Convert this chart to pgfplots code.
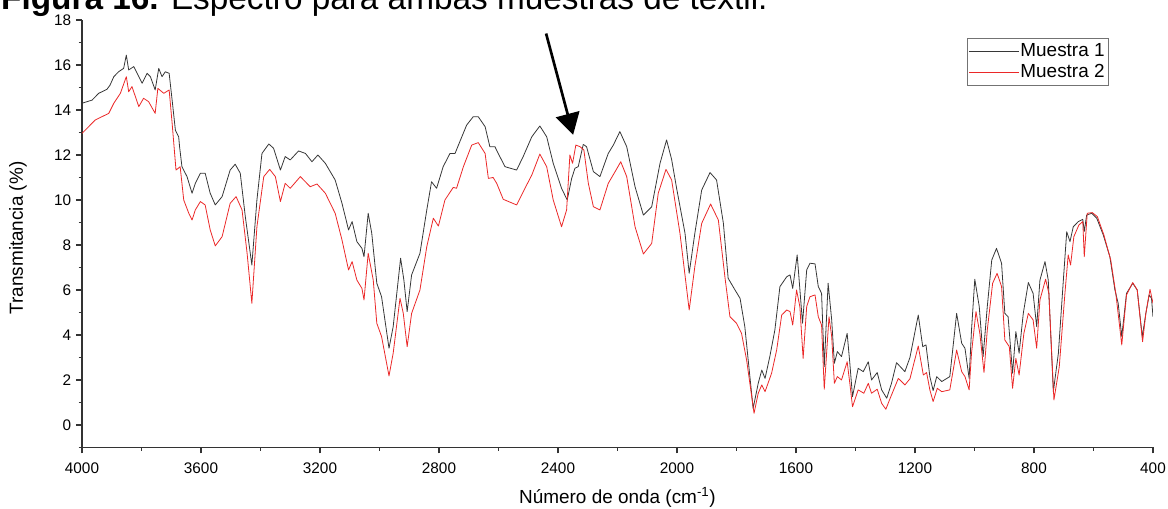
\documentclass[border=0pt]{standalone}
\usepackage{fontspec}
\setmainfont{Liberation Sans}
\usepackage{pgfplots}
\pgfplotsset{compat=1.18}
\usetikzlibrary{arrows.meta}

\newcommand\tickfont{\fontsize{11.5}{13}\selectfont}
\newcommand\labfont{\fontsize{14.2}{17}\selectfont}
\definecolor{negro}{RGB}{55,55,55}
\definecolor{rojo}{RGB}{235,40,40}

\begin{document}
\begin{tikzpicture}
\begin{axis}[
  name=ax,
  scale only axis,
  width=803.25pt, height=320.6pt,
  x dir=reverse,
  xmin=400, xmax=4000, ymin=-1, ymax=18,
  axis x line*=bottom, axis y line*=left,
  xtick={400,800,...,4000}, minor xtick={600,1000,...,3800},
  ytick={0,2,...,18}, minor ytick={-1,1,...,17},
  tick align=outside,
  major tick length=4.5pt, minor tick length=2.5pt,
  axis line style={line width=0.9pt, black!80},
  every tick/.style={line width=0.9pt, black!80},
  ticklabel style={font=\tickfont},
  xticklabel style={yshift=-3.5pt},
  /pgf/number format/assume math mode=true,
  /pgf/number format/1000 sep={},
  xlabel={Número de onda (cm\textsuperscript{-1})},
  ylabel={Transmitancia (\%)},
  xlabel style={font=\labfont, at={(axis description cs:0.5,-0.13)}, anchor=base},
  ylabel style={font=\labfont, at={(axis description cs:-0.0598,0.49)}, anchor=center},
  legend cell align=left,
  legend image code/.code={\path (0pt,0pt) -- (37pt,0pt);
    \draw[#1] (4.5pt,0pt) -- (33pt,0pt);},
  legend style={at={(0.826,0.957)}, anchor=north west, draw=black!55,
    line width=0.5pt, font=\labfont, inner sep=1.5pt, row sep=0pt,
    nodes={text height=10.5pt, text depth=3.5pt, inner ysep=1pt, inner xsep=1pt}},
]
% Muestra 1
\addplot[negro, line width=0.6pt, line join=round] coordinates {
(4000,14.30)(3966,14.44)(3944,14.74)(3916,14.92)(3906,15.10)(3893,15.48)(3877,15.70)(3860,15.85)
(3851,16.44)(3843,15.78)(3826,15.93)(3809,15.48)(3798,15.19)(3781,15.63)(3770,15.48)(3754,14.89)
(3742,15.85)(3731,15.48)(3720,15.70)(3707,15.63)(3697,14.44)(3686,13.10)(3675,12.81)(3672,12.37)
(3664,11.48)(3647,11.04)(3630,10.30)(3619,10.74)(3602,11.19)(3586,11.19)(3569,10.30)(3552,9.78)
(3529,10.15)(3502,11.33)(3485,11.59)(3468,11.19)(3451,9.26)(3429,7.11)(3412,10.00)(3395,12.07)
(3372,12.49)(3356,12.30)(3333,11.33)(3317,11.93)(3300,11.78)(3272,12.18)(3249,12.07)(3227,11.70)
(3207,12.00)(3182,11.63)(3149,10.89)(3126,9.85)(3104,8.67)(3092,9.04)(3076,8.15)(3059,7.85)
(3052,7.48)(3038,9.41)(3026,8.52)(3009,6.30)(2993,5.70)(2968,3.41)(2954,4.37)(2929,7.41)
(2918,6.44)(2907,5.04)(2892,6.67)(2864,7.63)(2841,9.56)(2825,10.81)(2808,10.52)(2786,11.48)
(2763,12.07)(2746,12.07)(2730,12.59)(2707,13.33)(2685,13.70)(2668,13.70)(2645,13.26)(2629,12.37)
(2612,12.37)(2601,12.07)(2578,11.48)(2539,11.33)(2517,11.93)(2488,12.81)(2461,13.29)(2438,12.81)
(2416,11.63)(2388,10.52)(2369,10.00)(2354,10.96)(2343,11.41)(2332,11.48)(2315,12.47)(2304,12.37)
(2281,11.26)(2259,11.04)(2231,12.07)(2214,12.44)(2192,13.04)(2169,12.37)(2141,10.59)(2113,9.33)
(2085,9.70)(2057,11.63)(2035,12.67)(2018,11.80)(2001,10.50)(1973,8.52)(1959,6.74)(1940,8.52)
(1917,10.44)(1889,11.22)(1867,10.89)(1844,8.96)(1828,6.52)(1805,6.00)(1788,5.63)(1772,4.37)
(1755,2.15)(1744,0.74)(1727,1.85)(1715,2.44)(1704,2.07)(1688,3.04)(1671,4.22)(1654,6.15)
(1631,6.59)(1620,6.67)(1611,6.07)(1596,7.56)(1578,4.52)(1564,6.89)(1553,7.19)(1536,7.16)
(1525,6.15)(1514,5.85)(1505,2.59)(1492,6.30)(1480,4.67)(1471,2.74)(1461,3.26)(1447,3.04)
(1428,4.07)(1419,2.74)(1410,1.26)(1391,2.52)(1374,2.37)(1357,2.81)(1346,2.00)(1327,2.33)
(1312,1.56)(1295,1.19)(1279,1.85)(1262,2.77)(1234,2.37)(1217,3.00)(1189,4.89)(1174,3.48)
(1163,3.56)(1150,2.15)(1139,1.53)(1127,2.15)(1110,1.93)(1083,2.15)(1060,4.96)(1043,3.63)
(1032,3.41)(1018,2.07)(1010,4.22)(999,6.48)(984,5.26)(971,3.04)(957,5.26)(942,7.33)
(926,7.85)(909,7.19)(898,4.96)(887,4.81)(872,2.30)(861,4.15)(850,3.19)(836,4.96)
(819,6.33)(803,5.85)(791,4.37)(780,6.44)(763,7.26)(752,6.44)(735,1.48)(718,3.19)
(702,6.30)(690,8.59)(679,8.15)(668,8.81)(651,9.04)(636,9.14)(631,8.60)(623,9.33)
(606,9.41)(589,9.19)(567,8.44)(545,7.48)(528,6.00)(517,5.41)(505,3.93)(489,5.85)
(468,6.30)(453,6.00)(436,3.93)(424,4.96)(413,5.78)(405,5.63)(400,4.81)
};
\addlegendentry{Muestra 1}
% Muestra 2
\addplot[rojo, line width=0.6pt, line join=round] coordinates {
(4000,12.96)(3955,13.56)(3910,13.85)(3893,14.30)(3871,14.74)(3851,15.48)(3843,14.81)(3832,15.04)
(3809,14.15)(3793,14.52)(3776,14.37)(3754,13.85)(3745,14.96)(3725,14.74)(3707,14.89)(3697,13.41)
(3684,11.33)(3670,11.48)(3658,10.00)(3641,9.41)(3630,9.11)(3619,9.56)(3602,9.93)(3586,9.78)
(3569,8.67)(3552,7.96)(3529,8.37)(3502,9.85)(3482,10.15)(3462,9.56)(3445,7.63)(3429,5.41)
(3412,8.81)(3389,11.04)(3369,11.36)(3350,11.04)(3333,9.93)(3317,10.74)(3300,10.52)(3266,11.04)
(3233,10.59)(3210,10.71)(3182,10.30)(3149,9.41)(3126,8.22)(3104,6.89)(3092,7.26)(3076,6.44)
(3059,6.07)(3052,5.56)(3038,7.63)(3021,6.44)(3009,4.52)(2993,3.93)(2968,2.18)(2954,3.19)
(2931,5.63)(2920,4.96)(2907,3.48)(2892,4.96)(2864,6.00)(2841,7.93)(2819,9.19)(2802,8.84)
(2780,10.00)(2752,10.56)(2741,10.52)(2718,11.48)(2690,12.44)(2668,12.55)(2645,12.07)(2634,10.96)
(2618,11.00)(2606,10.74)(2584,10.03)(2539,9.78)(2511,10.52)(2488,11.11)(2461,12.04)(2438,11.48)
(2416,10.00)(2388,8.81)(2371,9.56)(2360,12.00)(2351,11.63)(2340,12.44)(2326,12.37)(2313,12.22)
(2298,10.74)(2281,9.70)(2259,9.56)(2231,10.74)(2208,11.26)(2189,11.70)(2169,11.04)(2141,8.81)
(2113,7.60)(2085,8.07)(2063,10.30)(2037,11.36)(2018,10.89)(1990,8.52)(1959,5.11)(1940,7.04)
(1917,8.96)(1887,9.82)(1861,9.11)(1839,6.59)(1822,4.81)(1800,4.52)(1783,4.07)(1766,2.89)
(1741,0.52)(1727,1.41)(1715,1.78)(1704,1.48)(1682,2.30)(1665,3.33)(1648,4.89)(1631,5.11)
(1620,5.04)(1611,4.44)(1598,6.00)(1587,5.26)(1576,2.96)(1564,5.26)(1553,5.70)(1536,5.78)
(1525,4.81)(1514,4.44)(1505,1.59)(1489,4.81)(1480,3.93)(1471,1.85)(1461,2.15)(1447,2.00)
(1428,2.81)(1419,1.85)(1410,0.81)(1391,1.56)(1372,1.41)(1357,1.85)(1346,1.41)(1327,1.59)
(1312,0.96)(1298,0.70)(1279,1.33)(1256,2.07)(1234,1.78)(1217,2.05)(1189,3.51)(1172,2.22)
(1161,2.33)(1150,1.56)(1139,1.04)(1125,1.63)(1110,1.48)(1083,1.56)(1060,3.33)(1043,2.37)
(1032,2.15)(1018,1.56)(1010,3.19)(995,5.04)(982,4.07)(968,2.33)(957,4.22)(939,6.30)
(924,6.74)(909,6.15)(898,3.78)(883,3.48)(872,1.63)(861,2.96)(850,2.22)(834,4.07)
(819,4.96)(803,4.67)(791,3.41)(780,5.56)(761,6.48)(750,5.85)(733,1.11)(715,2.59)
(696,5.85)(685,7.56)(677,7.11)(666,8.37)(649,8.89)(636,9.04)(631,7.48)(621,9.41)
(604,9.44)(587,9.26)(565,8.44)(542,7.33)(525,5.85)(505,3.56)(489,5.78)(468,6.33)
(453,6.00)(435,3.70)(424,4.96)(410,6.03)(400,5.41)
};
\addlegendentry{Muestra 2}
% flecha
\draw[line width=2pt, -{Triangle[width=18pt,length=16pt]}]
  (axis cs:2440,17.4) -- (axis cs:2349,12.9);
\end{axis}
\pgfresetboundingbox
\begin{scope}[shift={(ax.south west)}]
  \useasboundingbox (-61.5pt,-45.4pt) rectangle (814.5pt,335.6pt);
  \node[anchor=base west, inner sep=0pt, font=\fontsize{25}{30}\selectfont]
    at (-60.8pt,328.6pt) {\textbf{Figura 16.} Espectro para ambas muestras de textil.};
\end{scope}
\end{tikzpicture}
\end{document}
